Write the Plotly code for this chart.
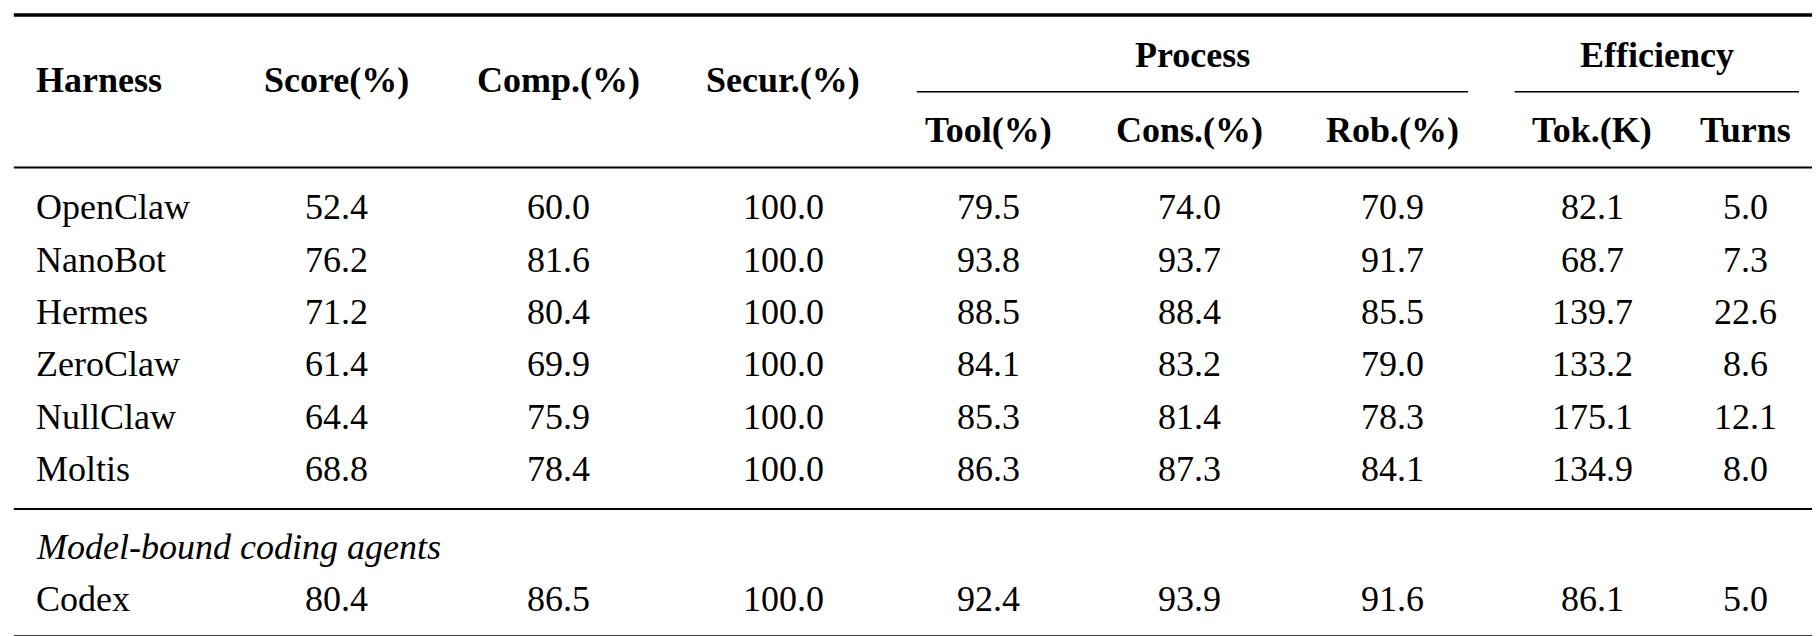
import plotly.graph_objects as go

harness = ["OpenClaw", "NanoBot", "Hermes", "ZeroClaw", "NullClaw", "Moltis"]
score = ["52.4", "76.2", "71.2", "61.4", "64.4", "68.8"]
comp = ["60.0", "81.6", "80.4", "69.9", "75.9", "78.4"]
secur = ["100.0"] * 6
tool = ["79.5", "93.8", "88.5", "84.1", "85.3", "86.3"]
cons = ["74.0", "93.7", "88.4", "83.2", "81.4", "87.3"]
rob = ["70.9", "91.7", "85.5", "79.0", "78.3", "84.1"]
tok = ["82.1", "68.7", "139.7", "133.2", "175.1", "134.9"]
turns = ["5.0", "7.3", "22.6", "8.6", "12.1", "8.0"]

section_label = "Model-bound coding agents"
codex_row = ["Codex", "80.4", "86.5", "100.0", "92.4", "93.9", "91.6", "86.1", "5.0"]

headers_top = ["Harness", "Score(%)", "Comp.(%)", "Secur.(%)"]
group_headers = ["Process", "Efficiency"]
sub_headers = ["Tool(%)", "Cons.(%)", "Rob.(%)", "Tok.(K)", "Turns"]

col_x = [22, 283, 474, 668, 845, 1018, 1193, 1365, 1497]
row_y = [171, 216, 261, 306, 351, 396]
FS = 36
FONT = "Liberation Serif, Times New Roman, DejaVu Serif, serif"

fig = go.Figure()
ann = []
def t(x, y, s, bold=False, italic=False, anchor="center"):
    if bold: s = f"<b>{s}</b>"
    if italic: s = f"<i>{s}</i>"
    ann.append(dict(x=x, y=y, text=s, showarrow=False, xanchor=anchor, yanchor="middle",
                    font=dict(family=FONT, size=FS, color="black"), xref="x", yref="y"))

for i, h in enumerate(headers_top):
    t(col_x[i], 62, h, bold=True, anchor="left" if i == 0 else "center")
t((783 + 1258) / 2, 40, group_headers[0], bold=True)
t((1298 + 1543) / 2, 40, group_headers[1], bold=True)
for j, h in enumerate(sub_headers):
    t(col_x[4 + j], 105, h, bold=True)

cols = [harness, score, comp, secur, tool, cons, rob, tok, turns]
for r, y in enumerate(row_y):
    for c, col in enumerate(cols):
        t(col_x[c], y, col[r], anchor="left" if c == 0 else "center")
t(col_x[0], 463, section_label, italic=True, anchor="left")
for c, v in enumerate(codex_row):
    t(col_x[c], 507, v, anchor="left" if c == 0 else "center")

shapes = []
def line(x0, x1, y, w):
    shapes.append(dict(type="line", x0=x0, x1=x1, y0=y, y1=y, xref="x", yref="y",
                       line=dict(color="black", width=w)))
line(5, 1563, 6, 3.5)
line(783, 1258, 72, 1.5)
line(1298, 1543, 72, 1.5)
line(5, 1563, 137, 2)
line(5, 1563, 430, 2)
line(5, 1563, 540, 3.5)

fig.update_layout(width=1820, height=636, margin=dict(l=0, r=0, t=0, b=0),
                  plot_bgcolor="white", paper_bgcolor="white",
                  xaxis=dict(range=[0, 1568], visible=False, fixedrange=True),
                  yaxis=dict(range=[546, 0], visible=False, fixedrange=True),
                  annotations=ann, shapes=shapes, showlegend=False)
fig.write_html("out.html", config={"displayModeBar": False})
